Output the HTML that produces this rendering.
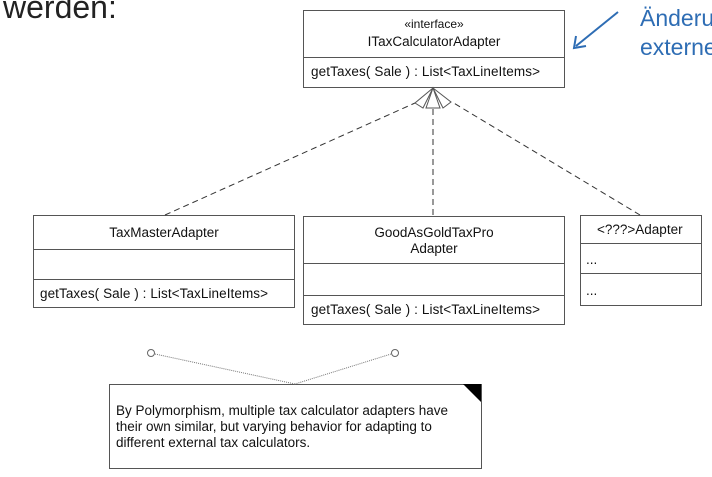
<!DOCTYPE html>
<html><head><style>
body{margin:0;width:712px;height:477px;background:#fff;overflow:hidden;position:relative;font-family:"Liberation Sans",sans-serif}
</style></head><body>
<svg width="712" height="477" style="position:absolute;left:0;top:0" font-family="Liberation Sans, sans-serif">
<text x="3" y="18" font-size="32" fill="#222">werden:</text>
<text x="640" y="26" font-size="23" fill="#2e6db4">Änderu</text>
<text x="640" y="55" font-size="23" fill="#2e6db4">externe</text>
<line x1="618" y1="12" x2="576" y2="46" stroke="#2e6db4" stroke-width="2"/>
<polyline points="576,36 574,48 586,46" fill="none" stroke="#2e6db4" stroke-width="2"/>
<g stroke="#555" fill="#fff" stroke-width="1">
<rect x="303.5" y="10.5" width="261" height="77"/>
<line x1="303" y1="57.5" x2="565" y2="57.5"/>
<rect x="33.5" y="215.5" width="261" height="92"/>
<line x1="33" y1="249.5" x2="295" y2="249.5"/><line x1="33" y1="279.5" x2="295" y2="279.5"/>
<rect x="303.5" y="216.5" width="261" height="108"/>
<line x1="303" y1="263.5" x2="565" y2="263.5"/><line x1="303" y1="295.5" x2="565" y2="295.5"/>
<rect x="580.5" y="215.5" width="121" height="90"/>
<line x1="580" y1="243.5" x2="702" y2="243.5"/><line x1="580" y1="273.5" x2="702" y2="273.5"/>
<rect x="109.5" y="384.5" width="372" height="84"/>
</g>
<g stroke="#333" stroke-dasharray="6,4" fill="none">
<line x1="165" y1="215" x2="415" y2="103"/>
<line x1="433" y1="215" x2="433" y2="108"/>
<line x1="640" y1="215" x2="452" y2="102"/>
</g>
<g stroke="#555" fill="#fff">
<polygon points="433,88 415,103 423,108"/>
<polygon points="433,88 426,108 440,108"/>
<polygon points="433,88 443,108 451,102"/>
</g>
<polygon points="463,384 481,384 481,402" fill="#000"/>
<g stroke="#777" stroke-dasharray="1,1" fill="none">
<line x1="155" y1="354" x2="295" y2="384"/>
<line x1="391" y1="354" x2="295" y2="384"/>
</g>
<circle cx="151" cy="353" r="3.5" fill="#fff" stroke="#666"/>
<circle cx="395" cy="353" r="3.5" fill="#fff" stroke="#666"/>
<g font-size="13.5" fill="#111" text-anchor="middle">
<text x="434" y="28" font-size="12">«interface»</text>
<text x="434" y="46">ITaxCalculatorAdapter</text>
<text x="164" y="237">TaxMasterAdapter</text>
<text x="434" y="237">GoodAsGoldTaxPro</text>
<text x="434" y="253">Adapter</text>
</g>
<g font-size="13.5" fill="#111">
<text x="311" y="76" textLength="229">getTaxes( Sale ) : List&lt;TaxLineItems&gt;</text>
<text x="40" y="298" textLength="228">getTaxes( Sale ) : List&lt;TaxLineItems&gt;</text>
<text x="311" y="314" textLength="229">getTaxes( Sale ) : List&lt;TaxLineItems&gt;</text>
<text x="597" y="234">&lt;???&gt;Adapter</text>
<text x="586" y="264">...</text>
<text x="586" y="295">...</text>
</g>
<g font-size="13.5" fill="#111">
<text x="116" y="415" textLength="332">By Polymorphism, multiple tax calculator adapters have</text>
<text x="116" y="431">their own similar, but varying behavior for adapting to</text>
<text x="116" y="447">different external tax calculators.</text>
</g>
</svg>
</body></html>
